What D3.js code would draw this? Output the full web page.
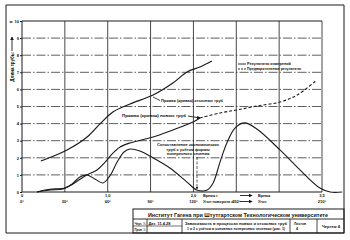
<!DOCTYPE html>
<html>
<head>
<meta charset="utf-8">
<script src="https://cdn.jsdelivr.net/npm/d3@7"></script>
<style>
  body { margin: 0; background: #fff; }
  svg text { font-family: "Liberation Sans", "DejaVu Sans", sans-serif; fill: #111; }
</style>
</head>
<body>
<svg id="chart" width="350" height="240"></svg>
<script>
// grid: x in units 0..7, y in units 0..10
const yTickLabels = ["0", "1", "2", "3", "4", "5", "6", "7", "8", "9", "10"];
const xTimeLabels = ["0", "", "1,0", "", "2,0", "", "", "3,5"];
const xAngleLabels = ["0°", "30°", "60°", "90°", "120°", "150°", "", "210°"];

// curve A: Прямая (кривая) отсосных труб
const curveAx = [0.44, 1.05, 1.52, 1.82, 2.12, 2.52, 3.06, 3.52, 3.85, 4.15, 4.43];
const curveAy = [1.81, 2.46, 3.22, 3.98, 4.68, 5.15, 5.67, 6.37, 7.02, 7.31, 7.66];

// curve B: Прямая (кривая) новых труб, measured part
const curveBx = [0.35, 0.65, 0.96, 1.19, 1.47, 1.75, 1.94, 2.10, 2.29, 2.52, 3.06, 3.52, 3.99, 4.15];
const curveBy = [0.0, 0.12, 0.18, 0.47, 0.94, 1.29, 1.75, 2.22, 2.63, 2.87, 3.22, 3.63, 4.09, 4.33];

// curve B, preliminary part (dashed)
const curveB2x = [4.15, 4.62, 5.02, 5.48, 6.02, 6.42, 6.88];
const curveB2y = [4.33, 4.62, 4.80, 5.03, 5.26, 5.67, 6.55];

// curve C: Сопоставление
const curveCx = [0.35, 0.54, 0.77, 1.00, 1.17, 1.35, 1.52, 1.70, 1.89, 2.05, 2.22, 2.38, 2.52, 2.75, 3.06,
                 3.45, 3.85, 4.08, 4.32, 4.46, 4.62, 4.78, 4.97, 5.20, 5.48, 6.02, 6.42, 6.95, 7.19, 7.47];
const curveCy = [0.0, 0.12, 0.18, 0.23, 0.47, 0.88, 0.99, 0.76, 0.53, 0.94, 1.75, 2.34, 2.51, 2.40, 1.99,
                 1.40, 0.58, 0.12, 0.12, 0.53, 1.75, 2.87, 3.74, 4.04, 3.68, 2.46, 1.46, 0.23, 0.0, 0.0];

const svg = d3.select('#chart');
const x = d3.scaleLinear().domain([0, 7]).range([22, 322]);
const y = d3.scaleLinear().domain([0, 10]).range([192, 21]);
const ink = '#1a1a1a';

svg.append('defs').append('marker')
  .attr('id', 'arr').attr('viewBox', '0 0 6 6').attr('refX', 5).attr('refY', 3)
  .attr('markerWidth', 4).attr('markerHeight', 4).attr('orient', 'auto')
  .append('path').attr('d', 'M0,0L6,3L0,6z').attr('fill', ink);

// drawing frame
svg.append('path')
  .attr('d', 'M6,5H344V233H6Z')
  .attr('fill', 'none').attr('stroke', ink).attr('stroke-width', 1);

// horizontal grid (dash-dot), top and bottom solid
svg.append('g').selectAll('line')
  .data(d3.range(0, 11))
  .join('line')
  .attr('x1', x(0)).attr('x2', x(7))
  .attr('y1', d => y(d)).attr('y2', d => y(d))
  .attr('stroke', ink)
  .attr('stroke-width', d => (d === 0 || d === 10) ? 1 : 0.7)
  .attr('stroke-dasharray', d => (d === 0 || d === 10) ? null : '9,2,1.5,2');

// vertical grid
svg.append('g').selectAll('line')
  .data(d3.range(0, 8))
  .join('line')
  .attr('x1', d => x(d)).attr('x2', d => x(d))
  .attr('y1', y(10)).attr('y2', y(0))
  .attr('stroke', ink).attr('stroke-width', d => d === 0 ? 1 : 0.8);

// y axis ticks
const yAxis = d3.axisLeft(y).ticks(10).tickSize(2).tickPadding(1)
  .tickFormat(d => yTickLabels[d]);
svg.append('g').attr('transform', `translate(${x(0)},0)`).call(yAxis)
  .call(g => g.select('.domain').remove())
  .call(g => g.selectAll('line').attr('stroke', ink))
  .call(g => g.selectAll('text').attr('font-size', 4).attr('font-weight', 'bold').attr('fill', ink));

svg.append('text').attr('x', 11).attr('y', 23).attr('font-size', 4)
  .attr('font-weight', 'bold').attr('text-anchor', 'middle').text('м');

// y axis title with arrow
svg.append('text')
  .attr('transform', 'translate(13.5,67) rotate(-90)')
  .attr('font-size', 4.5).attr('font-weight', 'bold').attr('text-anchor', 'middle')
  .text('Длина трубы');
svg.append('line').attr('x1', 12).attr('x2', 12).attr('y1', 51).attr('y2', 37)
  .attr('stroke', ink).attr('stroke-width', 0.9).attr('marker-end', 'url(#arr)');

// x labels, two rows
svg.append('g').selectAll('text')
  .data(xTimeLabels)
  .join('text')
  .attr('x', (d, i) => x(i)).attr('y', 197)
  .attr('font-size', 4).attr('font-weight', 'bold').attr('text-anchor', 'middle')
  .text(d => d);
svg.append('g').selectAll('text')
  .data(xAngleLabels)
  .join('text')
  .attr('x', (d, i) => x(i)).attr('y', 203)
  .attr('font-size', 4).attr('font-weight', 'bold').attr('text-anchor', 'middle')
  .text(d => d);

// x axis legends
svg.append('text').attr('x', 203).attr('y', 197).attr('font-size', 3.8).attr('font-weight', 'bold').text('Время   t');
svg.append('text').attr('x', 203).attr('y', 203).attr('font-size', 3.8).attr('font-weight', 'bold').text('Угол поворота   α');
svg.append('text').attr('x', 258).attr('y', 197).attr('font-size', 3.8).attr('font-weight', 'bold').text('Время');
svg.append('text').attr('x', 258).attr('y', 203).attr('font-size', 3.8).attr('font-weight', 'bold').text('Угол');
[195.5, 201.5].forEach(yy => {
  svg.append('line').attr('x1', 240).attr('x2', 252).attr('y1', yy).attr('y2', yy)
    .attr('stroke', ink).attr('stroke-width', 0.9).attr('marker-end', 'url(#arr)');
});

// curves
const line = d3.line().x(d => x(d[0])).y(d => y(d[1])).curve(d3.curveCatmullRom.alpha(0.5));
const pts = (xs, ys) => xs.map((v, i) => [v, ys[i]]);

svg.append('path').attr('d', line(pts(curveAx, curveAy)))
  .attr('fill', 'none').attr('stroke', ink).attr('stroke-width', 1.2);
svg.append('path').attr('d', line(pts(curveBx, curveBy)))
  .attr('fill', 'none').attr('stroke', ink).attr('stroke-width', 1.1);
svg.append('path').attr('d', line(pts(curveB2x, curveB2y)))
  .attr('fill', 'none').attr('stroke', ink).attr('stroke-width', 1.1).attr('stroke-dasharray', '3,2');
svg.append('path').attr('d', line(pts(curveCx, curveCy)))
  .attr('fill', 'none').attr('stroke', ink).attr('stroke-width', 1.1);

// curve labels
const lab = (tx, ty, s, w) => svg.append('text').attr('x', tx).attr('y', ty)
  .attr('font-size', 4).attr('font-weight', 'bold')
  .attr('textLength', w).attr('lengthAdjust', 'spacingAndGlyphs').text(s);

lab(161, 102, 'Прямая (кривая) отсосных труб', 62);
svg.append('line').attr('x1', 153).attr('x2', 160).attr('y1', 97).attr('y2', 100.5)
  .attr('stroke', ink).attr('stroke-width', 0.8);

lab(122, 117, 'Прямая (кривая) новых труб', 64);
svg.append('line').attr('x1', 188).attr('x2', 200).attr('y1', 116).attr('y2', 118)
  .attr('stroke', ink).attr('stroke-width', 0.9).attr('marker-end', 'url(#arr)');

lab(247, 65, 'Результаты измерений', 44);
lab(247, 70, 'Предварительные результаты', 54);
svg.append('line').attr('x1', 238).attr('x2', 246).attr('y1', 64).attr('y2', 64)
  .attr('stroke', ink).attr('stroke-width', 0.9);
svg.append('line').attr('x1', 238).attr('x2', 246).attr('y1', 69).attr('y2', 69)
  .attr('stroke', ink).attr('stroke-width', 0.9).attr('stroke-dasharray', '2,1');

svg.append('text').attr('x', 188).attr('y', 146).attr('font-size', 4).attr('font-weight', 'bold')
  .attr('text-anchor', 'middle').text('Сопоставление экономических');
svg.append('text').attr('x', 188).attr('y', 150.5).attr('font-size', 4).attr('font-weight', 'bold')
  .attr('text-anchor', 'middle').text('труб с учётом формы');
svg.append('text').attr('x', 188).attr('y', 155).attr('font-size', 4).attr('font-weight', 'bold')
  .attr('text-anchor', 'middle').text('поперечного сечения');
svg.append('line').attr('x1', 197).attr('x2', 197).attr('y1', 157).attr('y2', 189)
  .attr('stroke', ink).attr('stroke-width', 0.7).attr('stroke-dasharray', '3,1.5')
  .attr('marker-end', 'url(#arr)');

// title block
const tb = svg.append('g');
tb.append('rect').attr('x', 133).attr('y', 209).attr('width', 211).attr('height', 24)
  .attr('fill', 'none').attr('stroke', ink).attr('stroke-width', 1);
tb.append('line').attr('x1', 133).attr('x2', 344).attr('y1', 219).attr('y2', 219)
  .attr('stroke', ink).attr('stroke-width', 0.9);
[147, 182, 290, 317].forEach(cx => {
  tb.append('line').attr('x1', cx).attr('x2', cx).attr('y1', 219).attr('y2', 233)
    .attr('stroke', ink).attr('stroke-width', 0.8);
});
tb.append('line').attr('x1', 133).attr('x2', 182).attr('y1', 226).attr('y2', 226)
  .attr('stroke', ink).attr('stroke-width', 0.6);
tb.append('text').attr('x', 238).attr('y', 216.5).attr('font-size', 5.5).attr('font-weight', 'bold')
  .attr('text-anchor', 'middle').attr('textLength', 180).attr('lengthAdjust', 'spacingAndGlyphs')
  .text('Институт Гагена при Штутгартском Технологическом университете');
const small = (tx, ty, s, w) => tb.append('text').attr('x', tx).attr('y', ty)
  .attr('font-size', 3.3).attr('font-weight', 'bold')
  .attr('textLength', w).attr('lengthAdjust', 'spacingAndGlyphs').text(s);
small(134.5, 224.5, 'Черт.  ⅓', 11);
small(134.5, 231, 'Пров.  ⅓', 11);
small(148.5, 224.5, 'Дат. 11.4.28', 22);
small(185, 224.5, 'Зависимость в процессах новых и отсосных труб', 102);
small(187, 229.5, '1 и 2 с учётом в основных поперечных сечениях (рис. 1)', 98);
small(294, 224.5, 'Листов', 12);
small(296, 229.5, '4', 2);
small(322, 228, 'Чертеж 4', 18);
</script>
</body>
</html>
